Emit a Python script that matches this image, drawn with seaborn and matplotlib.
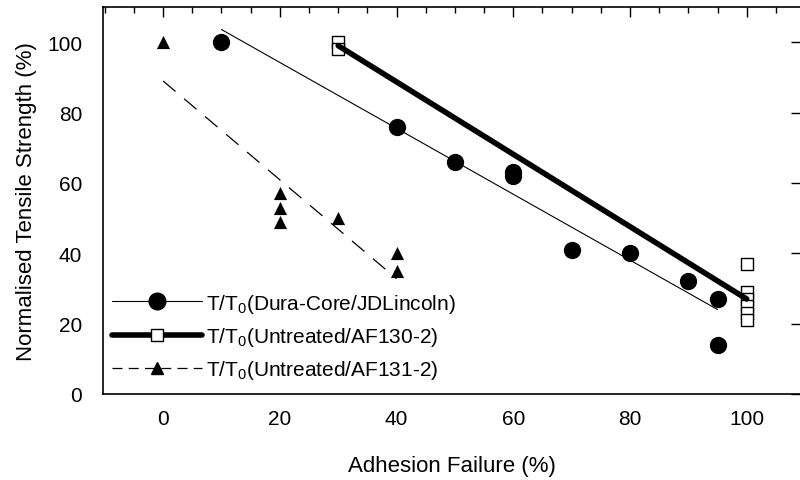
import numpy as np
import pandas as pd
import seaborn as sns
import matplotlib
matplotlib.use("Agg")
import matplotlib.pyplot as plt
from matplotlib.lines import Line2D
from matplotlib.ticker import MultipleLocator

# Dura-Core / JDLincoln
dura_x = [10, 40, 50, 60, 60, 70, 80, 90, 95, 95]
dura_y = [100, 76, 66, 63, 62, 41, 40, 32, 27, 14]

# Untreated / AF130-2
af130_x = [30, 30, 100, 100, 100, 100, 100, 100]
af130_y = [100, 98, 37, 29, 27, 25, 23, 21]

# Untreated / AF131-2
af131_x = [0, 20, 20, 20, 30, 40, 40]
af131_y = [100, 57, 53, 49, 50, 40, 35]

labels = ["T/T$_0$(Dura-Core/JDLincoln)",
          "T/T$_0$(Untreated/AF130-2)",
          "T/T$_0$(Untreated/AF131-2)"]

sns.set_style("white")
plt.rcParams['font.family'] = ['Liberation Sans', 'DejaVu Sans']
plt.rcParams['mathtext.default'] = 'regular'
plt.rcParams['text.color'] = 'black'
plt.rcParams['axes.labelcolor'] = 'black'
plt.rcParams['xtick.color'] = 'black'
plt.rcParams['ytick.color'] = 'black'

fig = plt.figure(figsize=(8.0, 4.81), dpi=100)
ax = fig.add_axes([103/800, (481-395)/481, (801-103)/800, (395-8)/481])

df1 = pd.DataFrame({'x': dura_x, 'y': dura_y})
df2 = pd.DataFrame({'x': af130_x, 'y': af130_y})
df3 = pd.DataFrame({'x': af131_x, 'y': af131_y})

sns.regplot(data=df1, x='x', y='y', ax=ax, ci=None, marker='o',
            scatter_kws={'s': 155, 'color': 'black', 'alpha': 1, 'linewidths': 0, 'zorder': 3},
            line_kws={'color': 'black', 'lw': 0.8, 'zorder': 2})
sns.regplot(data=df2, x='x', y='y', ax=ax, ci=None, marker='s',
            scatter_kws={'s': 75, 'facecolors': 'white', 'edgecolors': 'black', 'alpha': 1,
                         'linewidths': 1.0, 'zorder': 3},
            line_kws={'color': 'black', 'lw': 4.0, 'zorder': 4})
sns.regplot(data=df3, x='x', y='y', ax=ax, ci=None, marker='^',
            scatter_kws={'s': 90, 'color': 'black', 'alpha': 1, 'linewidths': 0, 'zorder': 3},
            line_kws={'color': 'black', 'lw': 0.9, 'dashes': (13, 9), 'zorder': 2})

ax.set_xlim(-10.3, 109.3)
ax.set_ylim(0, 110)
ax.xaxis.set_major_locator(MultipleLocator(20))
ax.xaxis.set_minor_locator(MultipleLocator(5))
ax.yaxis.set_major_locator(MultipleLocator(20))
ax.tick_params(which='both', direction='in', top=True, right=True, color='black')
ax.tick_params(which='major', length=7, width=1)
ax.tick_params(which='minor', length=4, width=1)
ax.tick_params(axis='x', which='major', labelsize=15, pad=11)
ax.tick_params(axis='y', which='major', labelsize=15, pad=15)
for sp in ax.spines.values():
    sp.set_color('black')
    sp.set_linewidth(1.2)

ax.set_xlabel('Adhesion Failure (%)', fontsize=16, labelpad=19)
ax.set_ylabel('Normalised Tensile Strength (%)', fontsize=16, labelpad=7)

handles = [
    Line2D([], [], color='black', lw=0.8, marker='o', markersize=12),
    Line2D([], [], color='black', lw=4.0, marker='s', markersize=9,
           markerfacecolor='white', markeredgecolor='black', markeredgewidth=1.0),
    Line2D([], [], color='black', lw=0.9, dashes=(8, 5), marker='^', markersize=9),
]
ax.legend(handles, labels, loc='lower left', bbox_to_anchor=(-0.005, 0.0),
          frameon=False, fontsize=15, handlelength=4.3, handletextpad=0.2,
          labelspacing=0.5, borderaxespad=0.2)

fig.savefig('out.png', dpi=100)
